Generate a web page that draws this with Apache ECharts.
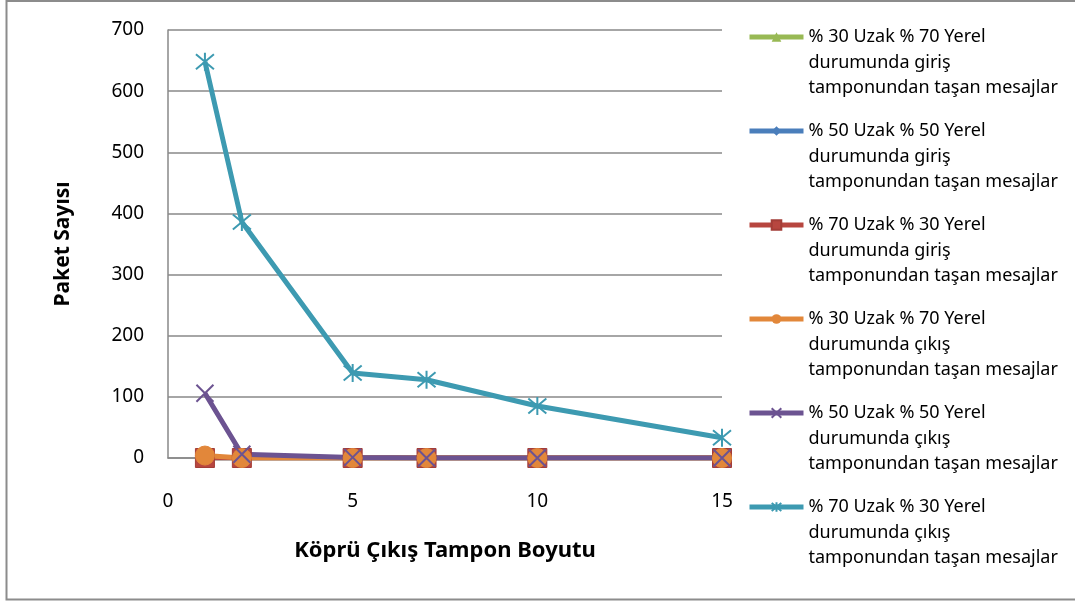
<!DOCTYPE html>
<html>
<head>
<meta charset="utf-8">
<script src="https://cdn.jsdelivr.net/npm/echarts@6/dist/echarts.min.js"></script>
<style>
  html, body { margin: 0; padding: 0; background: #fff; }
  #chart { width: 1075px; height: 601px; }
</style>
</head>
<body>
<div id="chart"></div>
<script>
// Buffer sizes on the x axis
const bufferSizes = [1, 2, 5, 7, 10, 15];

// Overflowing packet counts per scenario
const in30_70 = [0, 0, 0, 0, 0, 0];
const in50_50 = [0, 0, 0, 0, 0, 0];
const in70_30 = [0, 0, 0, 0, 0, 0];
const out30_70 = [4, 0, 0, 0, 0, 0];
const out50_50 = [106, 6, 1, 0, 0, 0];
const out70_30 = [648, 386, 139, 128, 85, 33];

const seriesNames = [
  '% 30 Uzak % 70 Yerel\ndurumunda giriş\ntamponundan taşan mesajlar',
  '% 50 Uzak % 50 Yerel\ndurumunda giriş\ntamponundan taşan mesajlar',
  '% 70 Uzak % 30 Yerel\ndurumunda giriş\ntamponundan taşan mesajlar',
  '% 30 Uzak % 70 Yerel\ndurumunda çıkış\ntamponundan taşan mesajlar',
  '% 50 Uzak % 50 Yerel\ndurumunda çıkış\ntamponundan taşan mesajlar',
  '% 70 Uzak % 30 Yerel\ndurumunda çıkış\ntamponundan taşan mesajlar'
];

const yTicks = { min: 0, max: 700, interval: 100 };
const xTicks = { min: 0, max: 15, interval: 5 };

const FONT = 'Noto Sans';
const LINE_H = 25.5;

function pairs(vals) {
  return bufferSizes.map((x, i) => [x, vals[i]]);
}

const crossPath = 'path://M0,0L10,10M10,0L0,10';
const starPath = 'path://M0,0L10,10M10,0L0,10M5,-1L5,11';

function lineSeries(name, vals, color, symbol, size, itemStyle) {
  return {
    name: name,
    type: 'line',
    data: pairs(vals),
    symbol: symbol,
    symbolSize: size,
    showAllSymbol: true,
    lineStyle: { color: color, width: 5 },
    itemStyle: itemStyle,
    emphasis: { disabled: true },
    animation: false
  };
}

const chart = echarts.init(document.getElementById('chart'), null, { renderer: 'canvas' });

chart.setOption({
  backgroundColor: '#ffffff',
  animation: false,
  grid: { left: 168, right: 353, top: 30, bottom: 143, containLabel: false },
  xAxis: {
    type: 'value',
    min: xTicks.min, max: xTicks.max, interval: xTicks.interval,
    name: 'Köprü Çıkış Tampon Boyutu',
    nameLocation: 'middle',
    nameGap: 82,
    nameTextStyle: { fontFamily: FONT, fontSize: 22, fontWeight: 'bold', color: '#000' },
    axisLine: { show: true, onZero: false, lineStyle: { color: '#888', width: 1.5 } },
    axisTick: { show: false },
    splitLine: { show: false },
    axisLabel: { margin: 34, fontFamily: FONT, fontSize: 19, color: '#000' }
  },
  yAxis: {
    type: 'value',
    min: yTicks.min, max: yTicks.max, interval: yTicks.interval,
    name: 'Paket Sayısı',
    nameLocation: 'middle',
    nameGap: 94,
    nameTextStyle: { fontFamily: FONT, fontSize: 21, fontWeight: 'bold', color: '#000' },
    axisLine: { show: true, lineStyle: { color: '#888', width: 1.5 } },
    axisTick: { show: false },
    splitLine: { show: true, lineStyle: { color: '#888', width: 1.5 } },
    axisLabel: { margin: 24, fontFamily: FONT, fontSize: 19, color: '#000' }
  },
  legend: {
    orient: 'vertical',
    left: 747,
    top: 37 - (5 * LINE_H) / 2,
    padding: 0,
    itemWidth: 54,
    itemHeight: 12,
    itemGap: 94 - 5 * LINE_H,
    selectedMode: false,
    data: seriesNames,
    // two leading blank lines put the first text line level with the icon
    formatter: name => '\n\n' + name,
    lineStyle: { width: 5 },
    textStyle: {
      fontFamily: FONT, fontSize: 18, color: '#000',
      lineHeight: LINE_H
    }
  },
  graphic: [{
    type: 'rect',
    silent: true,
    shape: { x: 6.5, y: 1, width: 1200, height: 598.5 },
    style: { fill: 'none', stroke: '#8c8c8c', lineWidth: 2 }
  }],
  series: [
    lineSeries(seriesNames[0], in30_70, '#98B954', 'triangle', 14,
      { color: '#98B954', borderColor: '#98B954' }),
    lineSeries(seriesNames[1], in50_50, '#4A7EBB', 'diamond', 14,
      { color: '#4A7EBB', borderColor: '#4A7EBB' }),
    lineSeries(seriesNames[2], in70_30, '#B7463F', 'rect', 19,
      { color: '#B7463F', borderColor: '#A33D37', borderWidth: 1 }),
    lineSeries(seriesNames[3], out30_70, '#E2873A', 'circle', 19,
      { color: '#E2873A', borderColor: '#E2873A' }),
    lineSeries(seriesNames[4], out50_50, '#6C5391', crossPath, 17,
      { color: 'none', borderColor: '#6C5391', borderWidth: 2 }),
    lineSeries(seriesNames[5], out70_30, '#3D9AB1', starPath, 18,
      { color: 'none', borderColor: '#3D9AB1', borderWidth: 2 })
  ]
});
</script>
</body>
</html>
